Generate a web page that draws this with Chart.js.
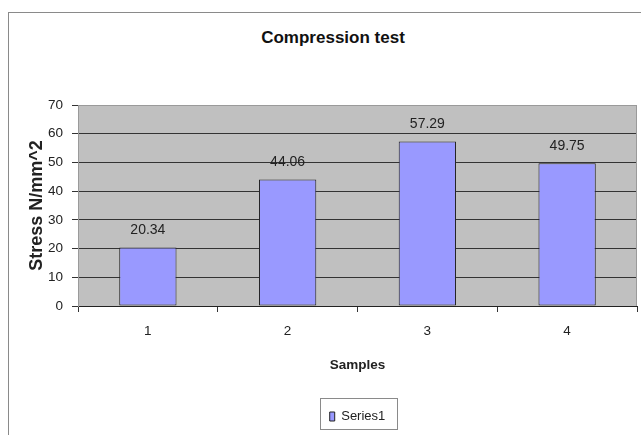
<!DOCTYPE html>
<html>
<head>
<meta charset="utf-8">
<script src="https://cdn.jsdelivr.net/npm/chart.js@4/dist/chart.umd.min.js"></script>
<style>
  html, body { margin: 0; padding: 0; background: #fff; overflow: hidden; }
  #wrap { position: relative; width: 641px; height: 435px; }
  #frame { position: absolute; left: 8px; top: 12px; width: 700px; height: 500px; border: 1px solid #8a8a8a; box-sizing: border-box; }
  #title { position: absolute; left: 233px; width: 200px; top: 28px; line-height: 24px; text-align: center;
           font: bold 17px "Liberation Sans", Arial, sans-serif; color: #111; }
  canvas { position: absolute; left: 0; top: 0; }
</style>
</head>
<body>
<div id="wrap">
  <div id="frame"></div>
  <div id="title">Compression test</div>
  <canvas id="chart" width="641" height="435"></canvas>
</div>
<script>
"use strict";

// ---- data ----
const samples = ["1", "2", "3", "4"];
const stress = [20.34, 44.06, 57.29, 49.75];
const yMin = 0, yMax = 70, yStep = 10;

const FONT = '"Liberation Sans", Arial, sans-serif';

// grey plot area + light frame on top/right
const plotBg = {
  id: "plotBg",
  beforeDraw(c) {
    const a = c.chartArea, g = c.ctx;
    g.save();
    g.fillStyle = "#c0c0c0";
    g.fillRect(a.left, a.top, a.right - a.left, a.bottom - a.top);
    g.restore();
  },
  beforeDatasetsDraw(c) {
    const a = c.chartArea, g = c.ctx;
    g.save();
    g.strokeStyle = "#9a9a9a";
    g.lineWidth = 1;
    g.beginPath();
    g.moveTo(a.right - 0.5, a.top);
    g.lineTo(a.right - 0.5, a.bottom);
    g.stroke();
    g.restore();
  },
};

// value labels above bars
const valueLabels = {
  id: "valueLabels",
  afterDatasetsDraw(c) {
    const g = c.ctx;
    const meta = c.getDatasetMeta(0);
    g.save();
    g.font = "14px " + FONT;
    g.fillStyle = "#222";
    g.textAlign = "center";
    g.textBaseline = "middle";
    meta.data.forEach((bar, i) => {
      g.fillText(stress[i].toFixed(2), bar.x, bar.y - 17);
    });
    g.restore();
  },
};

// boxed legend
const legendBox = {
  id: "legendBox",
  afterDraw(c) {
    const hb = c.legend && c.legend.legendHitBoxes && c.legend.legendHitBoxes[0];
    if (!hb) return;
    const g = c.ctx;
    g.save();
    g.strokeStyle = "#8a8a8a";
    g.lineWidth = 1;
    g.strokeRect(Math.round(hb.left - 10) + 0.5, Math.round(hb.top - 12) + 0.5,
                 Math.round(hb.width + 21), Math.round(hb.height + 18));
    g.restore();
  },
};

new Chart(document.getElementById("chart"), {
  type: "bar",
  data: {
    labels: samples,
    datasets: [{
      label: "Series1",
      data: stress,
      backgroundColor: "#9999ff",
      borderColor: "#222",
      borderWidth: 1,
      borderSkipped: false,
      categoryPercentage: 1,
      barPercentage: 0.41,
    }],
  },
  options: {
    responsive: false,
    animation: false,
    devicePixelRatio: 1,
    layout: { padding: { left: 20, top: 105, right: 4, bottom: 2 } },
    plugins: {
      tooltip: { enabled: false },
      legend: {
        position: "bottom",
        fullSize: false,
        labels: {
          font: { family: FONT, size: 13 },
          color: "#222",
          boxWidth: 5,
          boxHeight: 9,
          padding: 12,
        },
      },
    },
    scales: {
      x: {
        grid: { drawOnChartArea: false, drawTicks: true, tickLength: 6, tickColor: "#333", offset: true },
        border: { color: "#222", width: 1 },
        ticks: { font: { family: FONT, size: 13.5 }, color: "#222", padding: 11 },
        title: { display: true, text: "Samples", font: { family: FONT, size: 13.5, weight: "bold" }, color: "#222", padding: { top: 0, bottom: 25 } },
        afterFit(s) { s.height = 92; },
      },
      y: {
        min: yMin, max: yMax,
        grid: {
          color: (ctx) => (ctx.tick && ctx.tick.value === yMax ? "#9a9a9a" : "#333"),
          tickColor: "#333",
          tickLength: 6,
        },
        border: { color: "#9a9a9a", width: 1 },
        ticks: { stepSize: yStep, font: { family: FONT, size: 13.5 }, color: "#222", padding: 9 },
        title: { display: true, text: "Stress N/mm^2", font: { family: FONT, size: 18, weight: "bold" }, color: "#222", padding: { top: 6, bottom: 0 } },
        afterFit(s) { s.width = 58; },
      },
    },
  },
  plugins: [plotBg, valueLabels, legendBox],
});
</script>
</body>
</html>
